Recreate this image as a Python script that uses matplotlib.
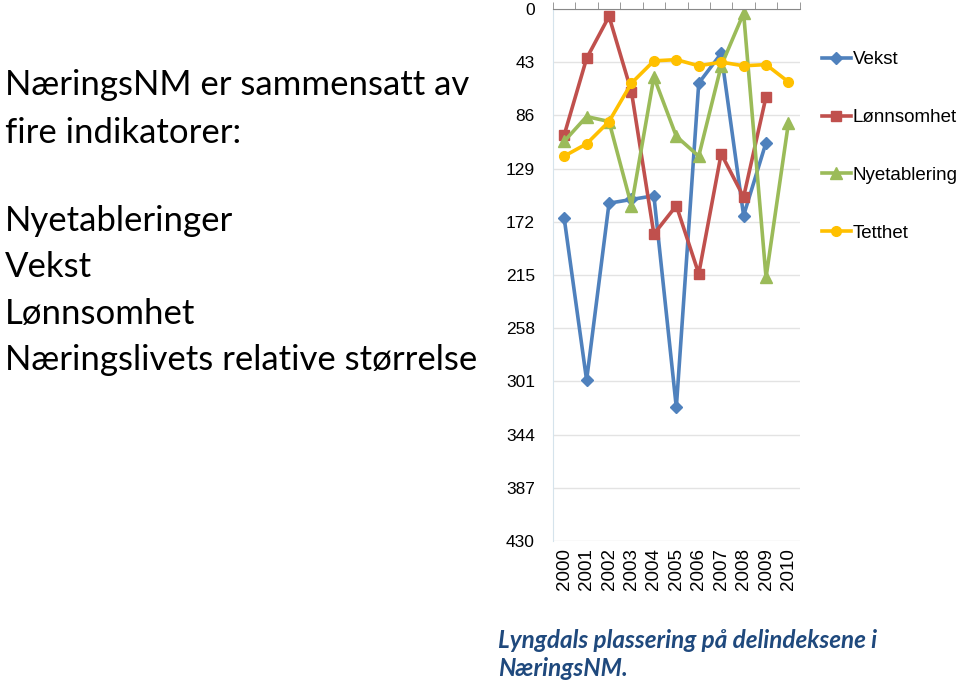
import numpy as np
import matplotlib
matplotlib.use('Agg')
import matplotlib.pyplot as plt

years = ['2000', '2001', '2002', '2003', '2004', '2005', '2006', '2007', '2008', '2009', '2010']
vekst = [169, 300, 157, 154, 151, 322, 60, 36, 167, 108, np.nan]
lonnsomhet = [102, 40, 6, 67, 182, 159, 214, 117, 152, 71, np.nan]
nyetablering = [107, 87, 91, 159, 55, 103, 119, 46, 3.5, 217, 92]
tetthet = [119, 109, 91, 60, 42, 41, 46, 43, 46, 45, 59]
yticks = [0, 43, 86, 129, 172, 215, 258, 301, 344, 387, 430]

fig = plt.figure(figsize=(9.6, 6.84), dpi=100)
ax = fig.add_axes([0.576, 0.209, 0.257, 0.778])

x = np.arange(len(years))
ax.plot(x, vekst, color='#4F81BD', marker='D', ms=6, lw=2.6, label='Vekst')
ax.plot(x, lonnsomhet, color='#C0504D', marker='s', ms=7, lw=2.6, label='Lønnsomhet')
ax.plot(x, nyetablering, color='#9BBB59', marker='^', ms=8, lw=2.6, label='Nyetablering')
ax.plot(x, tetthet, color='#FFC000', marker='o', ms=7, lw=2.6, label='Tetthet')

ax.set_ylim(430, 0)
ax.set_xlim(-0.5, 10.5)
ax.set_yticks(yticks)
ax.set_yticklabels([str(v) for v in yticks], family='Liberation Sans', fontsize=12.5)
ax.set_xticks(x)
ax.set_xticklabels(years, rotation=90, family='Liberation Sans', fontsize=13.5)
ax.set_xticks(np.arange(-0.5, 11, 1), minor=True)
ax.tick_params(axis='x', which='major', length=0, pad=5)
ax.tick_params(axis='x', which='minor', top=True, bottom=False, length=5, color='#888888')
ax.tick_params(axis='y', length=0, pad=13)
ax.grid(axis='y', color='#E3E3E3', lw=1)
ax.set_axisbelow(True)
for s in ['right', 'bottom']:
    ax.spines[s].set_visible(False)
ax.spines['top'].set_color('#888888')
ax.spines['left'].set_color('#D5E3EC')

leg = fig.legend(loc='upper left', bbox_to_anchor=(0.856, 0.925), frameon=False,
                 prop={'family': 'Liberation Sans', 'size': 13.5}, labelspacing=2.17,
                 handlelength=1.55, handletextpad=0.1, borderaxespad=0, borderpad=0)

left_lines = ['NæringsNM er sammensatt av', 'fire indikatorer:']
for i, t in enumerate(left_lines):
    fig.text(0.005, 1 - (85 + 48 * i) / 684, t, fontsize=25, family='Lato', va='center')
ind_lines = ['Nyetableringer', 'Vekst', 'Lønnsomhet', 'Næringslivets relative størrelse']
for i, t in enumerate(ind_lines):
    fig.text(0.005, 1 - (221 + 46.3 * i) / 684, t, fontsize=25, family='Lato', va='center')

fig.text(498 / 960, 1 - 641 / 684, 'Lyngdals plassering på delindeksene i', fontsize=17.5,
         family='Lato', style='italic', weight='bold', color='#1F497D', va='center')
fig.text(498 / 960, 1 - 669 / 684, 'NæringsNM.', fontsize=17.5,
         family='Lato', style='italic', weight='bold', color='#1F497D', va='center')

fig.savefig('out.png', dpi=100)
